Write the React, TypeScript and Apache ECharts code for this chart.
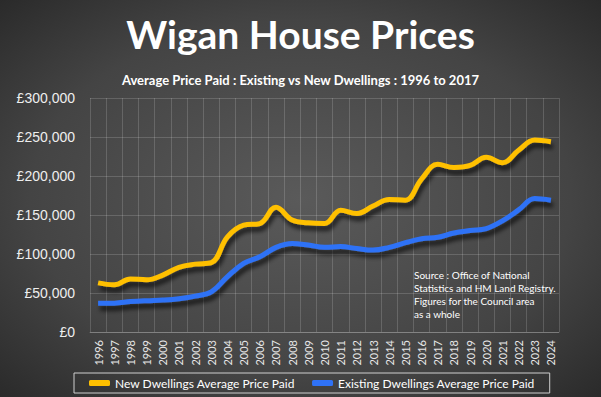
import React, { useEffect, useRef } from "react";
import * as echarts from "echarts";

const years = [
  "1996", "1997", "1998", "1999", "2000", "2001", "2002", "2003", "2004", "2005",
  "2006", "2007", "2008", "2009", "2010", "2011", "2012", "2013", "2014", "2015",
  "2016", "2017", "2018", "2019", "2020", "2021", "2022", "2023", "2024",
];

const newDwellings = [
  63000, 60500, 68000, 67000, 73000, 83000, 87000, 89000, 122000, 137000,
  139000, 160000, 143500, 140000, 139000, 156000, 152000, 161500, 170000, 169000,
  196000, 215000, 211000, 213500, 224000, 217000, 233000, 246000, 244000,
];

const existingDwellings = [
  37000, 37000, 39000, 40200, 41000, 42700, 46000, 51500, 71000, 88000,
  96500, 108500, 113500, 111500, 108500, 109500, 107000, 105000, 108500, 114500,
  119500, 121500, 127000, 130000, 132500, 142500, 156500, 171000, 169000,
];

const seriesNames = [
  "New Dwellings Average Price Paid",
  "Existing Dwellings Average Price Paid",
];

const titleText = "Wigan House Prices";
const subtitleText = "Average Price Paid : Existing vs New Dwellings : 1996 to 2017";
const sourceLines = [
  "Source : Office of National",
  "Statistics and HM Land Registry.",
  "Figures for the Council area",
  "as a whole",
];

export default function App() {
  const ref = useRef<HTMLDivElement>(null);

  useEffect(() => {
    document.body.style.margin = "0";
    const chart = echarts.init(ref.current!, undefined, { renderer: "svg" });
    const lineShadow = {
      shadowColor: "rgba(0,0,0,0.65)",
      shadowBlur: 4,
      shadowOffsetX: 2,
      shadowOffsetY: 5,
    };
    chart.setOption({
      animation: false,
      title: [
        {
          text: titleText,
          left: "center",
          top: 9,
          textStyle: {
            color: "#ffffff",
            fontFamily: "Lato",
            fontWeight: "bold",
            fontSize: 39,
          },
        },
        {
          text: subtitleText,
          left: "center",
          top: 68,
          textStyle: {
            color: "#ffffff",
            fontFamily: "Lato",
            fontWeight: "bold",
            fontSize: 13,
          },
        },
      ],
      graphic: [
        {
          type: "rect",
          z: -100,
          silent: true,
          shape: { x: 0, y: 0, width: 601, height: 397 },
          style: {
            fill: {
              type: "radial",
              x: 0.5,
              y: 0.5,
              r: 0.75,
              colorStops: [
                { offset: 0, color: "#5a5a5a" },
                { offset: 0.6, color: "#444444" },
                { offset: 1, color: "#262626" },
              ],
            },
          },
        },
        {
          type: "text",
          left: 414,
          top: 268,
          z: 10,
          style: {
            text: sourceLines.join("\n"),
            fill: "#ffffff",
            font: "10px Lato",
            lineHeight: 13,
          },
        },
      ],
      legend: {
        left: 74,
        top: 373,
        data: seriesNames,
        borderColor: "#cfcfcf",
        borderWidth: 1,
        padding: [4, 15, 4, 15],
        itemGap: 17,
        itemWidth: 21,
        itemHeight: 6,
        icon: "roundRect",
        textStyle: { color: "#ffffff", fontFamily: "Lato", fontSize: 12 },
      },
      grid: { left: 90, right: 42, top: 98, bottom: 65, containLabel: false },
      xAxis: {
        type: "category",
        data: years,
        boundaryGap: true,
        axisLine: { show: true, lineStyle: { color: "rgba(255,255,255,0.2)" } },
        axisTick: { show: false },
        splitLine: { show: true, lineStyle: { color: "rgba(255,255,255,0.16)", width: 1 } },
        axisLabel: {
          rotate: 90,
          interval: 0,
          margin: 8,
          color: "#e6e6e6",
          fontFamily: "Lato",
          fontSize: 11,
        },
      },
      yAxis: {
        type: "value",
        min: 0,
        max: 300000,
        interval: 50000,
        axisLine: { show: false },
        axisTick: { show: false },
        splitLine: { show: true, lineStyle: { color: "rgba(255,255,255,0.16)", width: 1 } },
        axisLabel: {
          margin: 15,
          color: "#eeeeee",
          fontFamily: "Liberation Sans",
          fontSize: 14,
          formatter: (v: number) => "£" + v.toLocaleString("en-GB"),
        },
      },
      series: [
        {
          name: seriesNames[0],
          type: "line",
          data: newDwellings,
          smooth: 0.4,
          symbol: "none",
          color: "#ffc000",
          lineStyle: { width: 5, color: "#ffc000", ...lineShadow },
          z: 3,
        },
        {
          name: seriesNames[1],
          type: "line",
          data: existingDwellings,
          smooth: 0.4,
          symbol: "none",
          color: "#2f72f6",
          lineStyle: { width: 5, color: "#2f72f6", ...lineShadow },
          z: 3,
        },
      ],
    });
    return () => chart.dispose();
  }, []);

  return (
    <div
      ref={ref}
      style={{ position: "absolute", left: 0, top: 0, width: 601, height: 397 }}
    />
  );
}
